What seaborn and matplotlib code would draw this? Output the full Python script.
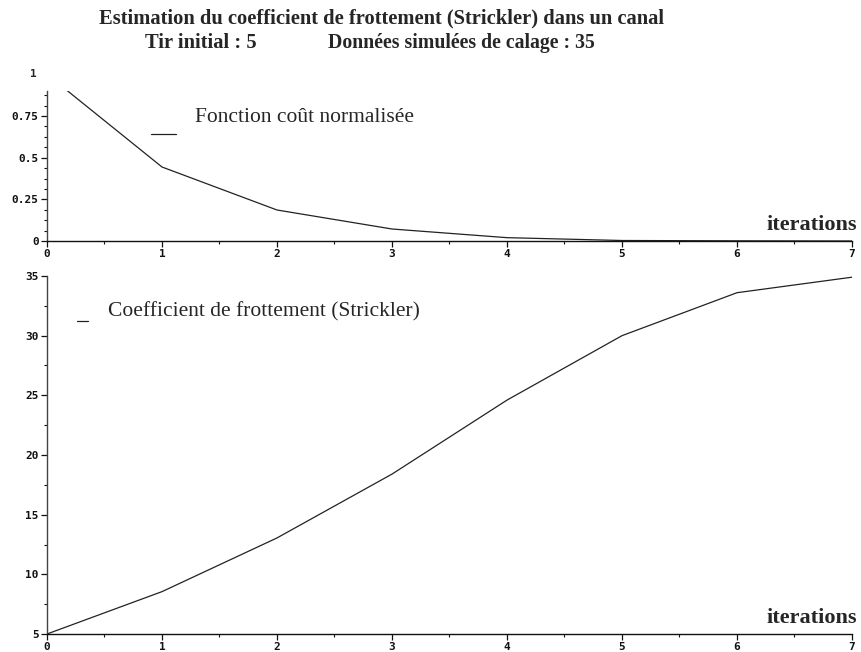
import matplotlib
matplotlib.use("Agg")
import matplotlib.pyplot as plt
import seaborn as sns
import pandas as pd
import numpy as np
from matplotlib.ticker import MultipleLocator

iterations = [0, 1, 2, 3, 4, 5, 6, 7]
cost = [1.0, 0.444, 0.186, 0.072, 0.02, 0.003, 0.001, 0.0]
strickler = [5.0, 8.55, 13.05, 18.4, 24.6, 30.0, 33.6, 34.9]

title1 = "Estimation du coefficient de frottement (Strickler) dans un canal"
title2a = "Tir initial : 5"
title2b = "Données simulées de calage : 35"
label_cost = "Fonction coût normalisée"
label_str = "Coefficient de frottement (Strickler)"
xlabel = "iterations"

sns.set_style("ticks")
plt.rcParams['font.family'] = ['DejaVu Sans']

df = pd.DataFrame({"it": iterations, "cost": cost, "k": strickler})

fig = plt.figure(figsize=(8.62, 6.52), dpi=100)
W, H = 862, 652
ax1 = fig.add_axes([47 / W, (H - 241) / H, 805 / W, 150 / H])
ax2 = fig.add_axes([47 / W, (H - 634) / H, 805 / W, 358 / H])

sns.lineplot(data=df, x="it", y="cost", ax=ax1, color="#222222", linewidth=0.9)
sns.lineplot(data=df, x="it", y="k", ax=ax2, color="#222222", linewidth=0.9)

tickfont = dict(family="DejaVu Sans Mono", weight="bold", size=8)
serif = ["Liberation Serif", "DejaVu Serif"]

for ax in (ax1, ax2):
    ax.set_xlim(0, 7)
    ax.xaxis.set_major_locator(MultipleLocator(1))
    ax.xaxis.set_minor_locator(MultipleLocator(0.5))
    for s in ("top", "right"):
        ax.spines[s].set_visible(False)
    ax.spines["left"].set_color("#444444")
    ax.spines["bottom"].set_color("#111111")
    ax.spines["left"].set_linewidth(1.0)
    ax.spines["bottom"].set_linewidth(1.0)
    ax.tick_params(axis="both", which="major", length=4, width=0.9, direction="out", pad=2, colors="#111111")
    ax.tick_params(axis="both", which="minor", length=2.5, width=0.8, direction="out", colors="#111111")
    ax.set_xlabel("")
    ax.set_ylabel("")
    ax.set_facecolor("white")

ax1.set_ylim(0, 0.9)
ax1.set_yticks([0, 0.25, 0.5, 0.75])
ax1.set_yticklabels(["0", "0.25", "0.5", "0.75"], **tickfont)
ax1.yaxis.set_minor_locator(MultipleLocator(0.0625))
ax1.set_xticks(iterations)
ax1.set_xticklabels([str(i) for i in iterations], **tickfont)
ax1.text(-0.013, 1.0, "1", transform=ax1.get_yaxis_transform(), ha="right", va="center",
         clip_on=False, **tickfont)

ax2.set_ylim(5, 35)
ax2.set_yticks([5, 10, 15, 20, 25, 30, 35])
ax2.set_yticklabels(["5", "10", "15", "20", "25", "30", "35"], **tickfont)
ax2.yaxis.set_minor_locator(MultipleLocator(2.5))
ax2.set_xticks(iterations)
ax2.set_xticklabels([str(i) for i in iterations], **tickfont)

# x labels
ax1.text(1.006, 0.04, xlabel, transform=ax1.transAxes, ha="right", va="bottom",
         family=serif, weight="bold", size=16)
ax2.text(1.006, 0.018, xlabel, transform=ax2.transAxes, ha="right", va="bottom",
         family=serif, weight="bold", size=16)

# legend-like annotations
ax1.plot([(151 - 47) / 805, (176 - 47) / 805], [(241 - 134) / 150] * 2,
         transform=ax1.transAxes, color="#222222", linewidth=0.9)
ax1.text((195 - 47) / 805, (241 - 117) / 150, label_cost, transform=ax1.transAxes,
         ha="left", va="center", family=serif, size=15.5)
ax2.plot([(77 - 47) / 805, (88 - 47) / 805], [(634 - 321) / 358] * 2,
         transform=ax2.transAxes, color="#222222", linewidth=0.9)
ax2.text((108 - 47) / 805, (634 - 312) / 358, label_str, transform=ax2.transAxes,
         ha="left", va="center", family=serif, size=15.5)

# titles
fig.text(382 / W, 1 - 18 / H, title1, ha="center", va="center", family=serif, weight="bold", size=14.8)
fig.text(145 / W, 1 - 43 / H, title2a, ha="left", va="center", family=serif, weight="bold", size=14.8)
fig.text(328 / W, 1 - 43 / H, title2b, ha="left", va="center", family=serif, weight="bold", size=14.2)

fig.savefig("out.png", dpi=100, facecolor="white")
